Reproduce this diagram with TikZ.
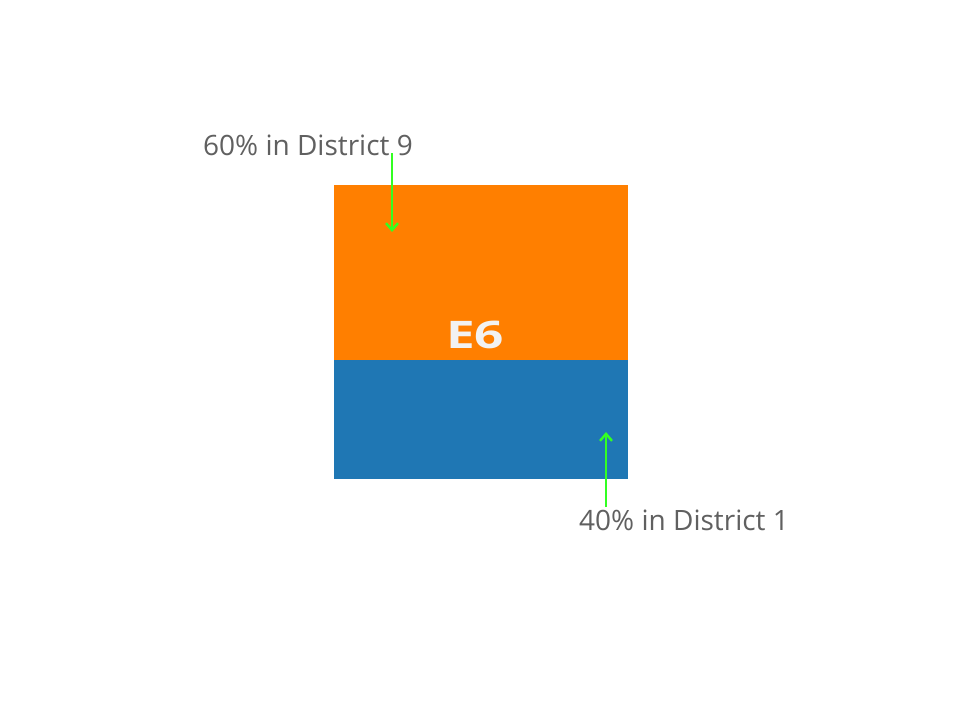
\documentclass[tikz,border=0pt]{standalone}
\usepackage{fontspec}
\setmainfont{Open Sans}
\usetikzlibrary{arrows.meta}
\definecolor{orangefill}{HTML}{FF7F00}
\definecolor{bluefill}{HTML}{1F77B4}
\definecolor{labelgray}{HTML}{606060}
\definecolor{arrowgreen}{HTML}{33FF22}
\begin{document}
\begin{tikzpicture}[x=1pt,y=-1pt,
  lbl/.style={text=labelgray,font=\fontsize{28}{30}\selectfont,inner sep=0pt,anchor=base west},
  pointer/.style={draw=arrowgreen,line width=2.6pt,-{Straight Barb[length=7pt,width=12pt,line width=2.4pt]}}]
\useasboundingbox[fill=white] (0,0) rectangle (960,720);
\fill[orangefill] (334,185) rectangle (628,360);
\fill[bluefill] (334,360) rectangle (628,479);
\node[inner sep=0pt,anchor=base] (e6) at (475,348) {\scalebox{1.35}[1]{\textcolor[HTML]{F2F2F2}{\fontsize{38}{40}\selectfont\bfseries E6}}};
\node[lbl] (t9) at (203,155) {60\% in District 9};
\node[lbl] (t1) at (579,530) {40\% in District 1};
\coordinate (a9s) at (392,153);
\coordinate (a9e) at (392,232);
\coordinate (a1s) at (606,507);
\coordinate (a1e) at (606,432);
\draw[pointer] (a9s) -- (a9e);
\draw[pointer] (a1s) -- (a1e);
\end{tikzpicture}
\end{document}
